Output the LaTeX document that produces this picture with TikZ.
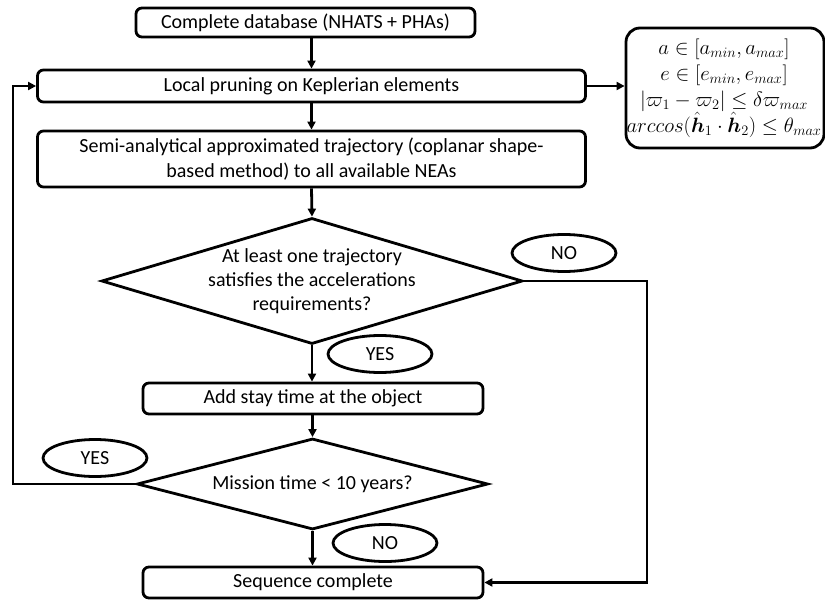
\documentclass[tikz,border=0pt]{standalone}
\usepackage{amsmath,bm}
\usepackage{fontspec}
\setmainfont{Carlito}
\usetikzlibrary{shapes.geometric,arrows.meta}
\begin{document}
\begin{tikzpicture}[x=1pt,y=-1pt,
  every node/.style={font=\fontsize{20}{25}\selectfont},
  box/.style={draw, line width=2.8pt, rounded corners=6pt, inner sep=0pt, align=center},
  dia/.style={draw, line width=2.8pt, diamond, inner sep=0pt},
  oval/.style={draw, line width=2.8pt, ellipse, inner sep=0pt, minimum width=104pt, minimum height=37pt},
  conn/.style={line width=2.8pt, -{Triangle[length=8pt,width=8pt]}}
]
\useasboundingbox (0,0) rectangle (825,600);

\node[box, minimum width=339pt, minimum height=29pt] (b1) at (305.5,22.5) {Complete database (NHATS + PHAs)};
\node[box, minimum width=548pt, minimum height=32pt] (b2) at (311.5,86) {Local pruning on Keplerian elements};
\node[box, minimum width=548pt, minimum height=56pt] (b3) at (311.5,159) {Semi-analytical approximated trajectory (coplanar shape-\\based method) to all available NEAs};
\node[dia, minimum width=421pt, minimum height=126pt,
  label={[align=center, font=\fontsize{20}{24}\selectfont]center:At least one trajectory\\satisfies the accelerations\\requirements?}] (d1) at (312,281) {};
\node[box, minimum width=340pt, minimum height=31pt] (b4) at (313,398.5) {Add stay time at the object};
\node[dia, minimum width=351pt, minimum height=91pt,
  label={[font=\fontsize{20}{24}\selectfont]center:Mission time < 10 years?}] (d2) at (312.5,484) {};
\node[box, minimum width=340pt, minimum height=31pt] (b5) at (313,582.5) {Sequence complete};

\node[draw, line width=2.8pt, rounded corners=14pt, minimum width=198pt, minimum height=120pt, inner sep=0pt] (rb) at (725,88) {};
\node[inner sep=0pt, align=center, font=\fontsize{20}{26}\selectfont] (rt) at (724,88) {%
$a \in [a_{min}, a_{max}]$\\
$e \in [e_{min}, e_{max}]$\\
$|\varpi_1 - \varpi_2| \le \delta\varpi_{max}$\\
$arccos(\hat{\bm h}_1 \cdot \hat{\bm h}_2) \le \theta_{max}$};

\node[oval] (no1) at (564,253) {NO};
\node[oval] (yes1) at (380,354) {YES};
\node[oval] (yes2) at (95,458) {YES};
\node[oval] (no2) at (385,543) {NO};

\coordinate (r1) at (647,281);
\coordinate (l1) at (13,484);

\draw[conn] (b2.north |- b1.south) -- (b2.north);
\draw[conn] (b2.south) -- (b3.north);
\draw[conn] (b3.south) -- (d1.north);
\draw[conn] (d1.south) -- (d1.south |- b4.north);
\draw[conn] (d2.north |- b4.south) -- (d2.north);
\draw[conn] (d2.south) -- (d2.south |- b5.north);
\draw[conn] (d1.east) -- (r1) |- (b5.east);
\draw[conn] (d2.west) -- (l1) |- (b2.west);
\draw[conn] (b2.east) -- (rb.west |- b2.east);
\end{tikzpicture}
\end{document}
